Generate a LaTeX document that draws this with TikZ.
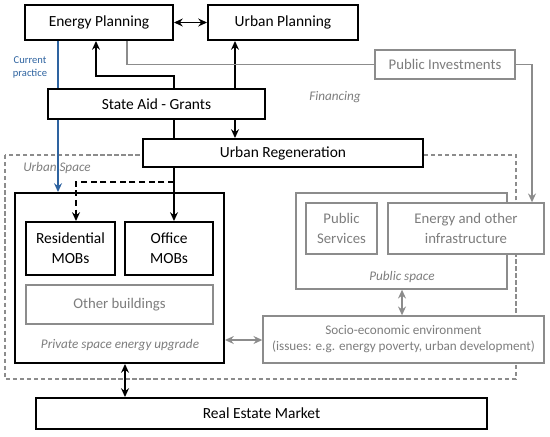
\documentclass[tikz,border=0pt]{standalone}
\usepackage{fontspec}
\setmainfont{Carlito}
\usetikzlibrary{arrows.meta}

\definecolor{linegray}{RGB}{140,140,140}
\definecolor{textgray}{RGB}{125,125,125}
\definecolor{practice}{RGB}{46,99,160}

\begin{document}
\begin{tikzpicture}[>={Stealth[length=5pt,width=4.5pt]}, x=0.02cm, y=-0.02cm,
    box/.style={draw, line width=1.1pt, fill=white, inner sep=0pt, align=center,
      font=\fontsize{8.8}{11.2}\selectfont},
    greybox/.style={draw=linegray, line width=0.8pt, fill=white, inner sep=0pt,
      align=center, text=textgray, font=\fontsize{8.4}{11}\selectfont},
    tag/.style={text=textgray, font=\itshape\fontsize{7.5}{9}\selectfont},
    arr/.style={line width=1.1pt},
    garr/.style={draw=linegray, line width=0.9pt}]
    \useasboundingbox (0,0) rectangle (550,436);

    % Urban space frame
    \draw[linegray, line width=0.7pt, dash pattern=on 2.5pt off 1.5pt] (5,155) rectangle (516,379);
    \node[tag] (urbsp) at (57,168) {Urban Space};

    % Planning
    \node[box, minimum width=2.96cm, minimum height=0.70cm] (ep) at (99,22.5) {Energy Planning};
    \node[box, minimum width=3.00cm, minimum height=0.70cm] (up) at (283,22.5) {Urban Planning};
    \node[greybox, minimum width=2.80cm, minimum height=0.58cm] (pi) at (445,64.5) {Public Investments};
    \node[tag] (fin) at (335,97) {Financing};

    % Current practice (behind the grants box)
    \draw[practice, line width=0.8pt] (ep.south -| 58,0) -- (58,89);
    \node[text=practice, align=center, font=\fontsize{6}{7.4}\selectfont] (cp) at (30,67.5) {Current\\practice};

    % Aid and regeneration
    \node[box, minimum width=4.34cm, minimum height=0.60cm] (sa) at (156.5,104) {State Aid - Grants};
    \draw[arr] (sa.south -| 174,0) -- (174,139);
    \node[box, minimum width=5.60cm, minimum height=0.56cm] (ur) at (283,153) {Urban Regeneration};

    % Private space
    \node[draw, line width=1.1pt, fill=white, minimum width=4.18cm, minimum height=3.40cm] (priv) at (119.5,278) {};
    \node[box, minimum width=1.78cm, minimum height=1.06cm] (res) at (70.5,248.5) {Residential\\MOBs};
    \node[box, minimum width=1.76cm, minimum height=1.06cm] (off) at (169,248.5) {Office\\MOBs};
    \node[greybox, minimum width=3.74cm, minimum height=0.78cm] (oth) at (119.5,304.5) {Other buildings};
    \node[tag] (privtag) at (120,345) {Private space energy upgrade};

    % Public space
    \node[greybox, minimum width=4.22cm, minimum height=1.92cm] (pub) at (401.5,241) {};
    \node[greybox, minimum width=1.42cm, minimum height=1.02cm] (ps) at (341.5,228.5) {Public\\Services};
    \node[greybox, minimum width=3.12cm, minimum height=1.02cm] (ei) at (466,228.5) {Energy and other\\infrastructure};
    \node[tag] (pubtag) at (402,277) {Public space};
    \node[greybox, minimum width=5.62cm, minimum height=0.94cm,
      font=\fontsize{7.5}{9.2}\selectfont] (se) at (403.5,339.5)
      {Socio-economic environment\\(issues: e.g. energy poverty, urban development)};

    % Market
    \node[box, minimum width=9.02cm, minimum height=0.62cm] (rem) at (261.5,413.5) {Real Estate Market};

    % Connectors
    \draw[arr, <->] (ep.east) -- (up.west);
    \draw[arr, ->] (sa.north -| 174,0) -- (174,76) -| (ep.south -| 96,0);
    \draw[arr, ->] (sa.north -| 235,0) -- (up.south -| 235,0);
    \draw[arr, ->] (sa.south -| 235,0) -- (ur.north -| 235,0);
    \draw[arr, ->] (ur.south -| 174,0) -- (off.north -| 174,0);
    \draw[arr, ->, dash pattern=on 3.5pt off 2pt] (174,182) -| (res.north -| 76,0);
    \draw[practice, line width=0.8pt, ->] (sa.south -| 58,0) -- (priv.north -| 58,0);
    \draw[garr] (ep.south -| 127,0) |- (pi.west);
    \draw[garr, ->] (pi.east) -| (ei.north -| 532,0);
    \draw[garr, <->] (priv.east |- 0,340) -- (se.west |- 0,340);
    \draw[garr, <->] (pub.south -| 402,0) -- (se.north -| 402,0);
    \draw[arr, <->] (priv.south -| 125,0) -- (rem.north -| 125,0);
\end{tikzpicture}
\end{document}
